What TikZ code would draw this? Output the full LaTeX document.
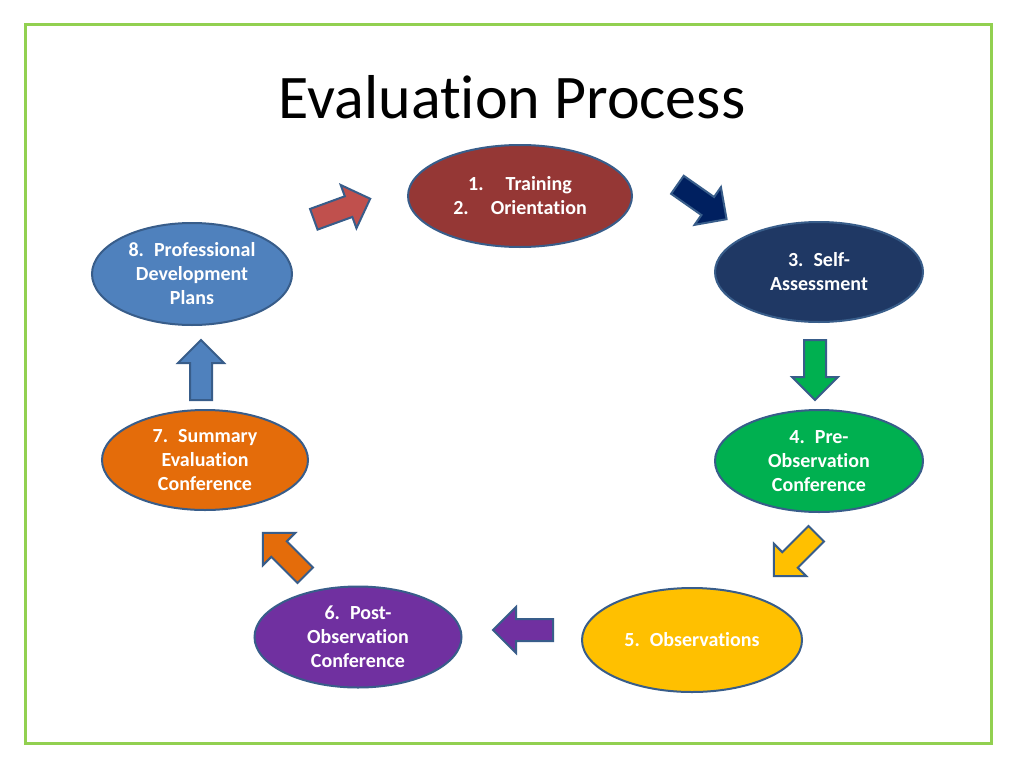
\documentclass[tikz,border=0pt]{standalone}
\usepackage{fontspec}
\setmainfont{Carlito}[Ligatures=NoCommon]
\usetikzlibrary{shapes.geometric}
\definecolor{frameGreen}{HTML}{92D050}
\definecolor{edgeBlue}{HTML}{385D8A}
\definecolor{cRed}{HTML}{953735}
\definecolor{cRedArrow}{HTML}{C0504D}
\definecolor{cNavy}{HTML}{1F3864}
\definecolor{cNavyArrow}{HTML}{002060}
\definecolor{cGreen}{HTML}{00B050}
\definecolor{cYellow}{HTML}{FFC000}
\definecolor{cPurple}{HTML}{7030A0}
\definecolor{cOrange}{HTML}{E46C0A}
\definecolor{cBlue}{HTML}{4F81BD}
\tikzset{
  stage/.style={ellipse, draw=edgeBlue, line width=2pt, text=white,
    font=\fontsize{20}{24}\selectfont\bfseries, align=center, inner sep=0pt},
  pics/blockarrow/.style={code={
    \draw[edgeBlue, line width=2pt, line join=miter, fill=#1]
      (-30,-11) -- (7,-11) -- (7,-23) -- (30,0) -- (7,23) -- (7,11) -- (-30,11) -- cycle;}},
}
\begin{document}
\begin{tikzpicture}[x=1pt,y=-1pt]
\fill[white] (0,0) rectangle (1024,768);
\useasboundingbox (0,0) rectangle (1024,768);
\draw[frameGreen, line width=3pt] (25,25) rectangle (991,743);
\node[font=\fontsize{62}{70}\selectfont, anchor=base, inner sep=0pt] (title) at (512,118) {Evaluation Process};

\node[stage, fill=cRed, minimum width=224pt, minimum height=102pt] (s1) at (520,196)
  {1.\hspace{1.1em}Training\\2.\hspace{1.1em}Orientation};
\node[stage, fill=cNavy, minimum width=208pt, minimum height=100pt] (s3) at (819,272)
  {3.\hspace{0.5em}Self-\\Assessment};
\node[stage, fill=cGreen, minimum width=208pt, minimum height=102pt] (s4) at (819,461)
  {4.\hspace{0.5em}Pre-\\Observation\\Conference};
\node[stage, fill=cYellow, minimum width=220pt, minimum height=104pt] (s5) at (692,640)
  {5.\hspace{0.5em}Observations};
\node[stage, fill=cPurple, minimum width=207pt, minimum height=101pt] (s6) at (358,637)
  {6.\hspace{0.5em}Post-\\Observation\\Conference};
\node[stage, fill=cOrange, minimum width=206pt, minimum height=100pt] (s7) at (205,460)
  {7.\hspace{0.5em}Summary\\Evaluation\\Conference};
\node[stage, fill=cBlue, minimum width=200pt, minimum height=102pt] (s8) at (192,274)
  {8.\hspace{0.5em}Professional\\Development\\Plans};

\pic[rotate=20] (a81) at (342,209) {blockarrow=cRedArrow};
\pic[rotate=-35] (a13) at (702,202) {blockarrow=cNavyArrow};
\pic[rotate=-90] (a34) at (815,370) {blockarrow=cGreen};
\pic[rotate=-135] (a45) at (795,555) {blockarrow=cYellow};
\pic[rotate=180] (a56) at (523,630) {blockarrow=cPurple};
\pic[rotate=135] (a67) at (284,554) {blockarrow=cOrange};
\pic[rotate=90] (a78) at (201,370) {blockarrow=cBlue};
\end{tikzpicture}
\end{document}
